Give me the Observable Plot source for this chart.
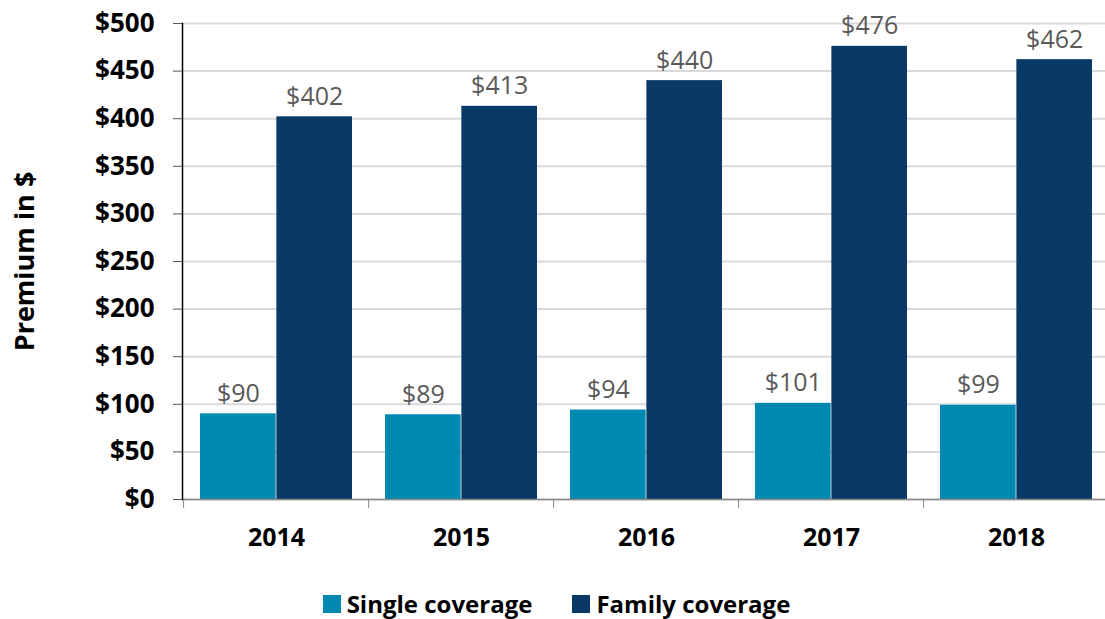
<!DOCTYPE html>
<html><head><meta charset="utf-8">
<script src="https://cdn.jsdelivr.net/npm/d3@7"></script>
<script src="https://cdn.jsdelivr.net/npm/@observablehq/plot@0.6"></script>
<style>
body{margin:0;background:#fff;font-family:"Open Sans",sans-serif}
#legend{display:flex;justify-content:center;align-items:center;gap:40px;margin-top:14px;margin-left:8px;font-weight:bold;font-size:24px;line-height:30px;color:#000}
#legend .item{display:flex;align-items:center}
#legend .sw{width:18px;height:18px;margin-right:6px}
</style>
</head><body><div id="chart"></div>
<script>
const years = ["2014", "2015", "2016", "2017", "2018"];
const series = ["Single coverage", "Family coverage"];
const singleValues = [90, 89, 94, 101, 99];
const familyValues = [402, 413, 440, 476, 462];
const colors = ["#0089b0", "#083967"];
const yTicks = [0, 50, 100, 150, 200, 250, 300, 350, 400, 450, 500];
const yTitle = "Premium in $";

const single = years.map((year, i) => ({year, series: series[0], value: singleValues[i]}));
const family = years.map((year, i) => ({year, series: series[1], value: familyValues[i]}));

const xOpts = {type: "band", domain: years, range: [182, 1111], paddingInner: 0.178, paddingOuter: 0.089};
const xs = Plot.scale({x: xOpts});
const half = xs.bandwidth / 2;
const step = xs.step;
const money = d => "$" + d;

const plot = Plot.plot({
  width: 1105,
  height: 575,
  marginLeft: 182,
  marginRight: 0,
  marginTop: 23,
  marginBottom: 76,
  style: {fontFamily: "Open Sans, sans-serif", background: "#fff", color: "#000"},
  x: {...xOpts, label: null},
  y: {domain: [0, 500], range: [499, 23], label: null},
  marks: [
    Plot.gridY(yTicks, {stroke: "#d9d9d9", strokeOpacity: 1, strokeWidth: 2}),
    Plot.barY(single, {x: "year", y: "value", fill: colors[0], insetRight: half}),
    Plot.barY(family, {x: "year", y: "value", fill: colors[1], insetLeft: half}),
    Plot.ruleY([0], {stroke: "#888", strokeWidth: 1.5}),
    Plot.frame({anchor: "left", stroke: "#000", strokeWidth: 1.5}),
    Plot.axisY(yTicks, {tickSize: 9, tickPadding: 19, tickFormat: money, fontSize: 26, fontWeight: "bold", stroke: "#555", label: null}),
    Plot.axisX({tickSize: 9, tickFormat: () => "", dx: -step / 2, stroke: "#888", label: null}),
    Plot.axisX({tickSize: 0, tickPadding: 29, fontSize: 25, fontWeight: "bold", label: null}),
    Plot.text(single, {x: "year", y: "value", text: d => money(d.value), dx: -half / 2, dy: -12, lineAnchor: "bottom", fill: "#595959", fontSize: 25}),
    Plot.text(family, {x: "year", y: "value", text: d => money(d.value), dx: half / 2, dy: -12, lineAnchor: "bottom", fill: "#595959", fontSize: 25}),
    Plot.text([yTitle], {frameAnchor: "left", textAnchor: "middle", rotate: -90, dx: -157, text: d => d, fontSize: 27, fontWeight: "bold", fill: "#000"})
  ]
});
document.getElementById("chart").appendChild(plot);

const legend = document.createElement("div");
legend.id = "legend";
series.forEach((s, i) => {
  const item = document.createElement("div");
  item.className = "item";
  const sw = document.createElement("span");
  sw.className = "sw";
  sw.style.background = colors[i];
  const t = document.createElement("span");
  t.textContent = s;
  item.appendChild(sw);
  item.appendChild(t);
  legend.appendChild(item);
});
document.getElementById("chart").appendChild(legend);
</script>
</body></html>
